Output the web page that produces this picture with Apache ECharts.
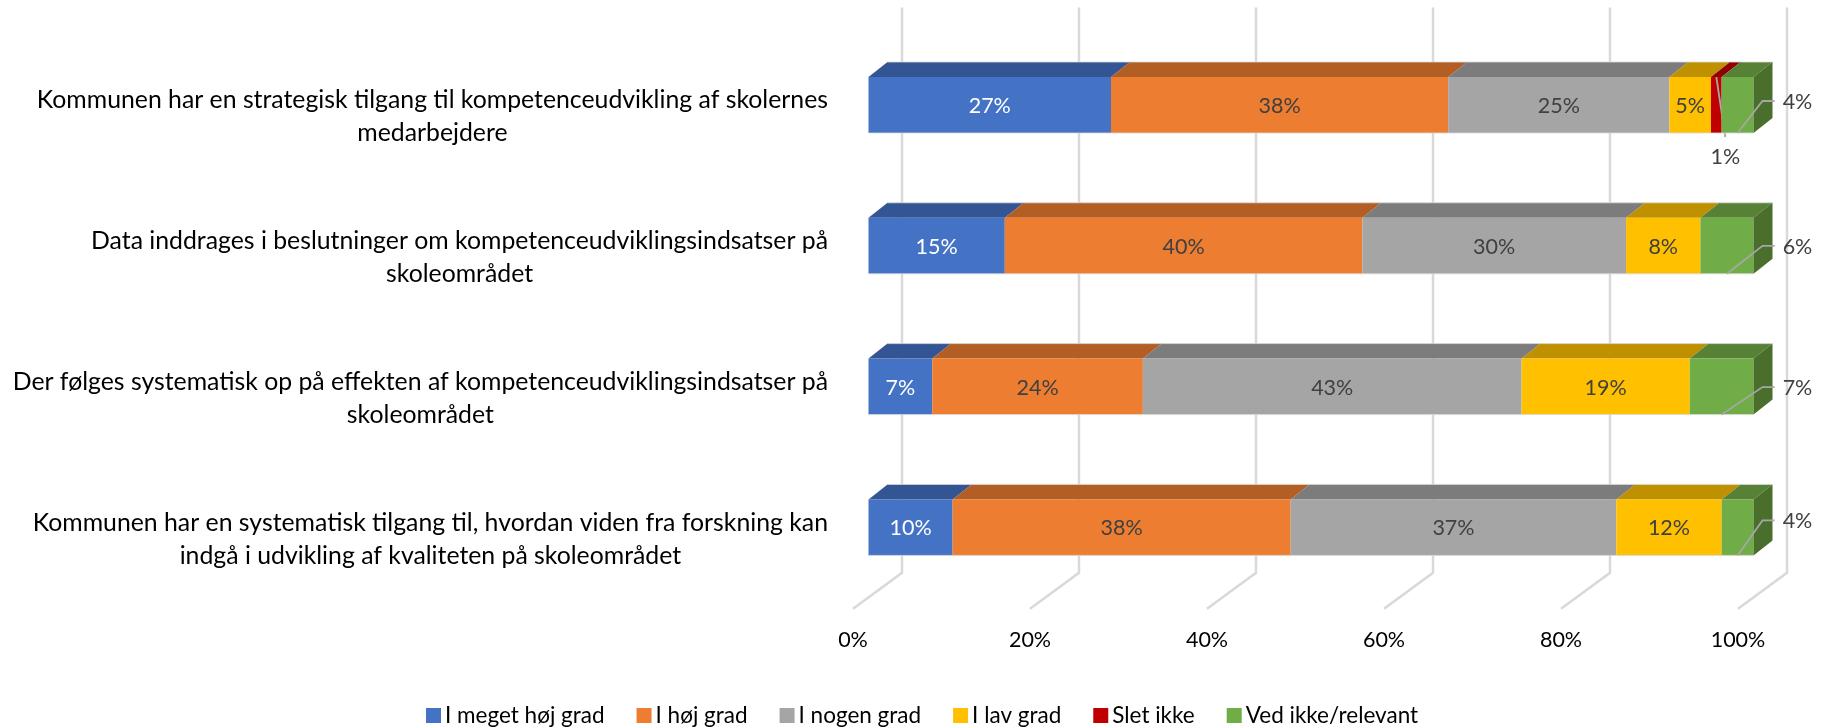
<!DOCTYPE html>
<html>
<head>
<meta charset="utf-8">
<style>
  html, body { margin: 0; padding: 0; background: #fff; }
  #chart { width: 1824px; height: 728px; }
</style>
<script src="https://cdn.jsdelivr.net/npm/echarts@6/dist/echarts.min.js"></script>
</head>
<body>
<div id="chart"></div>
<script>
var categories = [
    'Kommunen har en strategisk tilgang til kompetenceudvikling af skolernes\nmedarbejdere',
    'Data inddrages i beslutninger om kompetenceudviklingsindsatser på\nskoleområdet',
    'Der følges systematisk op på effekten af kompetenceudviklingsindsatser på\nskoleområdet',
    'Kommunen har en systematisk tilgang til, hvordan viden fra forskning kan\nindgå i udvikling af kvaliteten på skoleområdet'
];
var levels = ['I meget høj grad', 'I høj grad', 'I nogen grad', 'I lav grad', 'Slet ikke', 'Ved ikke/relevant'];

var veryHigh = [27.4, 15.4, 7.2, 9.5];
var high = [38.1, 40.4, 23.8, 38.2];
var some = [25.0, 29.8, 42.8, 36.8];
var low = [4.7, 8.4, 19.0, 11.9];
var notAtAll = [1.2, 0, 0, 0];
var dontKnow = [3.6, 6.0, 7.2, 3.6];

var xTicks = [0, 20, 40, 60, 80, 100];

var FONT = 'Lato';
var frontColors = ['#4472C4', '#ED7D31', '#A5A5A5', '#FFC000', '#C00000', '#70AD47'];
var topColors = ['#335593', '#B25E25', '#7C7C7C', '#BF9000', '#900000', '#578135'];
var sideColor = '#4A6E2C';
var labelColors = ['#fff', '#404040', '#404040', '#404040', '#404040', '#404040'];
var leaderColor = '#A6A6A6';
var edgeColor = 'rgba(217,217,217,0.8)';

// 3d look: how far the bar goes back, and where the bar sits on the floor
var BAR_H = 56, DEPTH_X = 19, DEPTH_Y = 15, BAR_SHIFT = 15.5;
// outside labels were dragged by hand in the original
var outsideShift = [-4, 0, 0.5, -7];

function renderWall(params, api) {
    var cs = params.coordSys;
    var x = api.coord([api.value(0), 0])[0];
    return {
        type: 'polyline',
        shape: {points: [[x + 49, cs.y - 27], [x + 49, cs.y + cs.height - 25], [x, cs.y + cs.height + 11]]},
        style: {fill: 'none', stroke: '#D9D9D9', lineWidth: 2.5}
    };
}

function renderSegment(levelIdx) {
    return function(params, api) {
        var value = api.value(3);
        if (!value) {
            return;
        }
        var row = api.value(2);
        var left = api.coord([api.value(0), row])[0] + BAR_SHIFT;
        var right = api.coord([api.value(1), row])[0] + BAR_SHIFT;
        var mid = api.coord([0, row])[1];
        var top = mid - BAR_H / 2, bottom = mid + BAR_H / 2;
        var text = Math.round(value) + '%';
        var children = [{
            type: 'polygon',
            shape: {points: [[left, top], [left + DEPTH_X, top - DEPTH_Y], [right + DEPTH_X, top - DEPTH_Y], [right, top]]},
            style: {fill: topColors[levelIdx]}
        }, {
            type: 'rect',
            shape: {x: left, y: top, width: right - left, height: BAR_H},
            style: {fill: frontColors[levelIdx]}
        }, {
            type: 'line',
            shape: {x1: left + DEPTH_X, y1: top - DEPTH_Y, x2: right + DEPTH_X, y2: top - DEPTH_Y},
            style: {stroke: edgeColor, lineWidth: 1}
        }, {
            type: 'line',
            shape: {x1: left, y1: bottom, x2: right, y2: bottom},
            style: {stroke: edgeColor, lineWidth: 1}
        }];
        var textStyle = {text: text, fontFamily: FONT, fontSize: 21.5, align: 'center', verticalAlign: 'middle', fill: labelColors[levelIdx]};

        if (levelIdx === 5) {
            var elbowY = mid + outsideShift[row];
            children.push({
                type: 'polygon',
                shape: {points: [[right, top], [right + DEPTH_X, top - DEPTH_Y], [right + DEPTH_X, bottom - DEPTH_Y], [right, bottom]]},
                style: {fill: sideColor}
            }, {
                type: 'polyline',
                shape: {points: [[(left + right) / 2, bottom], [right + 9, elbowY], [right + 21, elbowY]]},
                style: {fill: 'none', stroke: leaderColor, lineWidth: 1.8}
            }, {
                type: 'text',
                style: Object.assign(textStyle, {x: right + 44, y: elbowY + 1})
            });
        } else if (levelIdx === 4) {
            var cx = (left + right) / 2;
            children.push({
                type: 'line',
                shape: {x1: cx, y1: top, x2: cx + 9, y2: bottom + 4},
                style: {stroke: leaderColor, lineWidth: 1.8}
            }, {
                type: 'text',
                style: Object.assign(textStyle, {x: cx + 9, y: bottom + 24})
            });
        } else {
            children.push({
                type: 'text',
                style: Object.assign(textStyle, {x: (left + right) / 2, y: mid + 1})
            });
        }
        return {type: 'group', children: children};
    };
}

var allLevels = [veryHigh, high, some, low, notAtAll, dontKnow];
var offset = categories.map(function() { return 0; });

var series = [{
    type: 'custom',
    name: 'wall',
    silent: true,
    z: 1,
    clip: false,
    renderItem: renderWall,
    encode: {x: 0},
    data: xTicks.map(function(t) { return [t]; })
}];

allLevels.forEach(function(values, i) {
    series.push({
        type: 'custom',
        name: levels[i],
        z: 2 + i,
        clip: false,
        itemStyle: {color: frontColors[i]},
        renderItem: renderSegment(i),
        encode: {x: [0, 1], y: 2},
        data: values.map(function(v, row) {
            var start = offset[row];
            offset[row] += v;
            return [start, offset[row], row, v];
        })
    });
});

var myChart = echarts.init(document.getElementById('chart'));

var option = {
    animation: false,
    backgroundColor: '#fff',
    textStyle: {fontFamily: FONT},
    grid: {left: 853, top: 34.6, width: 885, height: 563.2},
    legend: {
        left: 421,
        top: 699,
        data: levels,
        icon: 'rect',
        itemWidth: 15,
        itemHeight: 15,
        itemGap: 32,
        textStyle: {fontFamily: FONT, fontSize: 22.5, color: '#000', padding: [0, 0, 0, -1]}
    },
    xAxis: {
        type: 'value',
        min: 0,
        max: 100,
        interval: 20,
        splitLine: {show: false},
        axisLine: {show: false},
        axisTick: {show: false},
        axisLabel: {margin: 31, fontFamily: FONT, fontSize: 21.5, color: '#000', formatter: '{value}%', hideOverlap: false, showMinLabel: true, showMaxLabel: true}
    },
    yAxis: {
        type: 'category',
        inverse: true,
        data: categories,
        axisLine: {show: false},
        axisTick: {show: false},
        axisLabel: {
            interval: 0,
            margin: 25,
            align: 'right',
            color: '#000',
            formatter: function(v) {
                var lines = v.split('\n');
                return '{line|' + lines[0] + '}\n{line|' + lines[1] + '}';
            },
            rich: {
                // text block hangs a bit under the bar centre, lines centred on each other
                line: {fontFamily: FONT, fontSize: 24.8, color: '#000', lineHeight: 33, align: 'center', padding: [24, 0, 0, 0]}
            }
        }
    },
    series: series
};

myChart.setOption(option);
</script>
</body>
</html>
